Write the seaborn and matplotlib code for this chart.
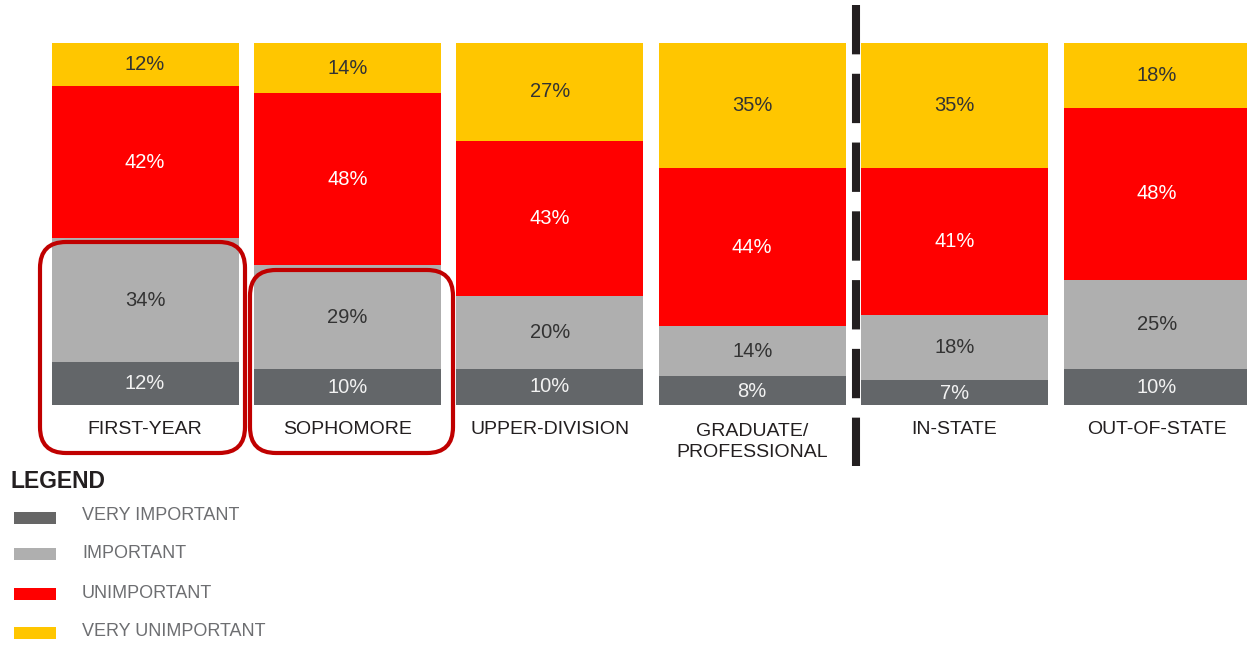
import numpy as np
import pandas as pd
import matplotlib
matplotlib.use("Agg")
import matplotlib.pyplot as plt
import seaborn as sns
from matplotlib.patches import FancyBboxPatch, Rectangle

# ---- data ----
categories = ["FIRST-YEAR", "SOPHOMORE", "UPPER-DIVISION", "GRADUATE/\nPROFESSIONAL", "IN-STATE", "OUT-OF-STATE"]
levels = ["VERY IMPORTANT", "IMPORTANT", "UNIMPORTANT", "VERY UNIMPORTANT"]
very_important = [12, 10, 10, 8, 7, 10]
important = [34, 29, 20, 14, 18, 25]
unimportant = [42, 48, 43, 44, 41, 48]
very_unimportant = [12, 14, 27, 35, 35, 18]

colors = ["#636669", "#afafaf", "#ff0000", "#ffc600"]
text_colors = ["#f2f2f2", "#333333", "#ffffff", "#333333"]
legend_colors = ["#666666", "#afafaf", "#ff0000", "#ffc600"]

sns.set_theme(style="white")
plt.rcParams["font.family"] = ["Liberation Sans", "DejaVu Sans"]

W, H = 1247, 645
fig = plt.figure(figsize=(W / 100, H / 100), dpi=100)
ax = fig.add_axes([0, 0, 1, 1])

vals = np.array([very_important, important, unimportant, very_unimportant], dtype=float)
shares = vals / vals.sum(axis=0) * 100
cum = np.cumsum(shares, axis=0)

df = pd.DataFrame({"category": categories})
spacing = 202.4
x0 = 145.0
bar_w = 187 / spacing

# draw from the full stack down so that each lower level overlays
for k in range(3, -1, -1):
    df["v"] = cum[k]
    sns.barplot(data=df, x="category", y="v", color=colors[k], saturation=1,
                width=bar_w, errorbar=None, linewidth=0, edgecolor="none", ax=ax)

# pixel mapping
px_per_unit = 3.62
y0px = 405
ax.set_xlim(-x0 / spacing, (W - x0) / spacing)
ax.set_ylim((y0px - H) / px_per_unit, y0px / px_per_unit)
ax.axis("off")

# percent labels
for i in range(len(categories)):
    bottom = 0
    for k in range(4):
        c = bottom + shares[k, i] / 2
        if k == 0 and shares[k, i] < 8:
            c -= 0.3
        ax.text(i, c, f"{int(vals[k, i])}%", ha="center", va="center",
                fontsize=14.5, color=text_colors[k])
        bottom += shares[k, i]

# category labels
for i, cat in enumerate(categories):
    ax.text(i, (y0px - (442 if "\n" in cat else 430)) / px_per_unit, cat,
            ha="center", va="center", fontsize=14, color="#231f20",
            linespacing=1.35)

# overlay axes in pixel coordinates
ov = fig.add_axes([0, 0, 1, 1], facecolor="none")
ov.set_xlim(0, W)
ov.set_ylim(H, 0)
ov.axis("off")

# dashed divider
ov.plot([856, 856], [5, 466], color="#231f20", lw=5.8,
        dash_capstyle="butt", dashes=(49 / 8, 19.3 / 8))

# highlight boxes
for (xa, ya, xb, yb) in [(40, 242, 245, 453), (250, 270, 453, 453)]:
    ov.add_patch(FancyBboxPatch((xa, ya), xb - xa, yb - ya,
                                boxstyle="round,pad=0,rounding_size=26",
                                fill=False, edgecolor="#c00000", lw=3))

# legend
ov.text(11, 481, "LEGEND", ha="left", va="center", fontsize=16.5, fontweight="bold",
        color="#231f20")
leg_y = [518, 554, 594, 633]
txt_y = [515, 554, 593, 632]
for k in range(4):
    ov.add_patch(Rectangle((14, leg_y[k] - 6), 42, 12, color=legend_colors[k], lw=0))
    ov.text(82, txt_y[k], levels[k], ha="left", va="center", fontsize=13,
            color="#6d6e71")

fig.savefig("out.png", dpi=100)
